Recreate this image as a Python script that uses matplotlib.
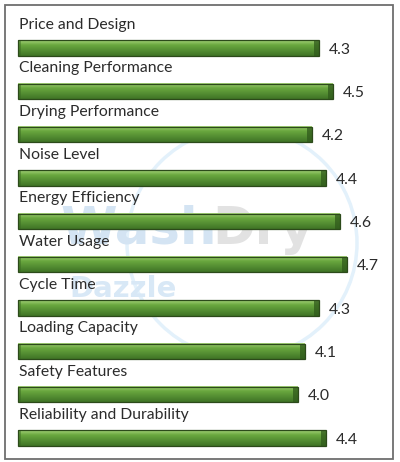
import numpy as np
import matplotlib.pyplot as plt
from matplotlib.patches import Rectangle, Ellipse
from matplotlib.colors import to_rgb

categories = ['Price and Design', 'Cleaning Performance', 'Drying Performance',
              'Noise Level', 'Energy Efficiency', 'Water Usage', 'Cycle Time',
              'Loading Capacity', 'Safety Features', 'Reliability and Durability']
ratings = [4.3, 4.5, 4.2, 4.4, 4.6, 4.7, 4.3, 4.1, 4.0, 4.4]

plt.rcParams['font.family'] = ['Lato', 'DejaVu Sans']

W, H = 400, 462
fig = plt.figure(figsize=(W/100, H/100), dpi=100)
ax = fig.add_axes([0, 0, 1, 1])
# pixel geometry: x=0 at px 18, 70 px per unit; bar centres 48 px + 43.3 px step
x0, sx = 18., 70.
y0, sy = 48., 43.33

# faint watermark behind the bars
ax.add_patch(Ellipse((3.2, 4.5), 230/sx, 230/sy, fill=False, ec='#e3f1fb',
                     lw=2.5, zorder=0))
ax.text(0.6, 4.2, 'Wash', fontsize=37, fontweight='bold', color='#d4e4f3',
        ha='left', va='center', zorder=0, family='DejaVu Sans')
ax.text(2.77, 4.2, 'Dry', fontsize=37, fontweight='bold', color='#e2e2e2',
        ha='left', va='center', zorder=0, family='DejaVu Sans')
ax.text(0.74, 5.56, 'Dazzle', fontsize=21, fontweight='bold', color='#d8e8f6',
        ha='left', va='center', zorder=0, family='DejaVu Sans')

# gradient for the cylinder-like bars
top = np.array(to_rgb('#a6d47a'))
mid = np.array(to_rgb('#6aa83f'))
bot = np.array(to_rgb('#3f7426'))
t = np.linspace(0, 1, 40)[:, None]
grad = np.where(t < 0.3, top + (mid - top) * (t / 0.3),
                mid + (bot - mid) * ((t - 0.3) / 0.7))
grad = grad[:, None, :]

bh = 0.36
for i, (cat, v) in enumerate(zip(categories, ratings)):
    ax.imshow(grad, extent=(0, v, i + bh/2, i - bh/2), aspect='auto',
              interpolation='bilinear', zorder=2)
    # dark end caps
    ax.add_patch(Rectangle((v - 0.07, i - bh/2), 0.07, bh, fc='#2f5a1b',
                           ec='none', alpha=0.75, zorder=3))
    ax.add_patch(Rectangle((0, i - bh/2), 0.04, bh, fc='#3a6a22',
                           ec='none', alpha=0.5, zorder=3))
    ax.add_patch(Rectangle((0, i - bh/2), v, bh, fill=False, ec='#2c4a1a',
                           lw=0.9, zorder=4))
    ax.text(1/sx, i - 0.53, cat, fontsize=11.3, color='#2b2b2b',
            ha='left', va='center', zorder=5)
    ax.text(v + 10/sx, i + 0.04, f'{v:.1f}', fontsize=11.3, color='#2b2b2b',
            ha='left', va='center', zorder=5)

ax.set_xlim(-x0/sx, (W - x0)/sx)
ax.set_ylim((H - y0)/sy, -y0/sy)
ax.axis('off')

# outer frame
fig.patches.append(Rectangle((5/W, 3/H), 388/W, 454/H, transform=fig.transFigure,
                             fill=False, ec='#6e6e6e', lw=1.3))

fig.savefig('out.png', dpi=100)
